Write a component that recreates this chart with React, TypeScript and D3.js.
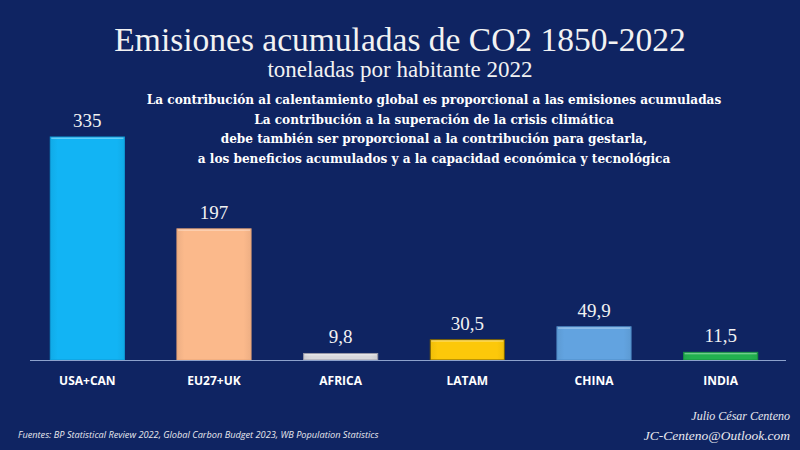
import React from "react";
import * as d3 from "d3";

const categories = ["USA+CAN", "EU27+UK", "AFRICA", "LATAM", "CHINA", "INDIA"];
const values = [335, 197, 9.8, 30.5, 49.9, 11.5];
const valueLabels = ["335", "197", "9,8", "30,5", "49,9", "11,5"];
const barColors = ["#12b4f4", "#fbb98b", "#d8d8dc", "#fcc80a", "#62a3e0", "#22b14f"];
const barEdges = ["#0e9ad6", "#e8a477", "#9a9aa8", "#7a6000", "#4f8cc8", "#179040"];

const title = "Emisiones acumuladas de CO2 1850-2022";
const subtitle = "toneladas por habitante 2022";
const bodyLines = [
  "La contribución al calentamiento global es proporcional a las emisiones acumuladas",
  "La contribución a la superación de la crisis climática",
  "debe también ser proporcional a la contribución para gestarla,",
  "a los beneficios acumulados y a la capacidad económica y tecnológica",
];
const sourceText = "Fuentes: BP Statistical Review 2022, Global Carbon Budget 2023, WB Population Statistics";
const authorLines = ["Julio César Centeno", "JC-Centeno@Outlook.com"];

const W = 800;
const H = 450;
const BG = "#0f2462";

export default function App() {
  const x = d3.scaleBand<string>().domain(categories).range([24, 784]).paddingInner(0.415).paddingOuter(0.2075);
  const y = d3.scaleLinear().domain([0, 335]).range([360, 137]);
  const serif = "'Liberation Serif', 'DejaVu Serif', serif";
  const bodySerif = "'DejaVu Serif', 'Liberation Serif', serif";
  const sans = "'Open Sans', 'Liberation Sans', sans-serif";

  return (
    <svg width={W} height={H} style={{ position: "absolute", left: 0, top: 0, display: "block" }}>
      <defs>
        {barColors.map((c, i) => (
          <linearGradient key={i} id={`g${i}`} x1="0" x2="1" y1="0" y2="0">
            <stop offset="0" stopColor={d3.color(c)!.darker(0.15).toString()} />
            <stop offset="0.1" stopColor={c} />
            <stop offset="0.9" stopColor={c} />
            <stop offset="1" stopColor={d3.color(c)!.darker(0.15).toString()} />
          </linearGradient>
        ))}
      </defs>
      <rect x={0} y={0} width={W} height={H} fill={BG} />
      <text x={400} y={51} textAnchor="middle" fill="#f2f2f2" fontFamily={serif} fontSize={33.5}>
        {title}
      </text>
      <text x={400} y={77} textAnchor="middle" fill="#f2f2f2" fontFamily={serif} fontSize={23}>
        {subtitle}
      </text>
      {bodyLines.map((l, i) => (
        <text key={i} x={434} y={104 + i * 19.5} textAnchor="middle" fill="#ffffff" fontFamily={bodySerif} fontWeight="bold" fontSize={12.1}>
          {l}
        </text>
      ))}
      {categories.map((c, i) => {
        const bx = x(c)!;
        const by = y(values[i]);
        return (
          <g key={c}>
            <rect x={bx} y={by} width={x.bandwidth()} height={y(0) - by} fill={`url(#g${i})`} stroke={barEdges[i]} strokeWidth={1} />
            <rect x={bx + 1} y={by + 0.5} width={x.bandwidth() - 2} height={1.5} fill="#ffffff" opacity={0.35} />
            <text x={bx + x.bandwidth() / 2} y={by - 10} textAnchor="middle" fill="#f2f2f2" fontFamily={serif} fontSize={19}>
              {valueLabels[i]}
            </text>
            <text x={bx + x.bandwidth() / 2} y={385} textAnchor="middle" fill="#ffffff" fontFamily={sans} fontWeight="bold" fontSize={12}>
              {c}
            </text>
          </g>
        );
      })}
      <line x1={30} x2={786} y1={y(0) + 0.5} y2={y(0) + 0.5} stroke="#8da2cc" strokeWidth={1.2} />
      <text x={18} y={438} fill="#e8e8ee" fontFamily={sans} fontStyle="italic" fontSize={9.2}>
        {sourceText}
      </text>
      <text x={790} y={420} textAnchor="end" fill="#e8e8ee" fontFamily={serif} fontStyle="italic" fontSize={12}>
        {authorLines[0]}
      </text>
      <text x={790} y={440} textAnchor="end" fill="#e8e8ee" fontFamily={serif} fontStyle="italic" fontSize={13.5}>
        {authorLines[1]}
      </text>
    </svg>
  );
}
